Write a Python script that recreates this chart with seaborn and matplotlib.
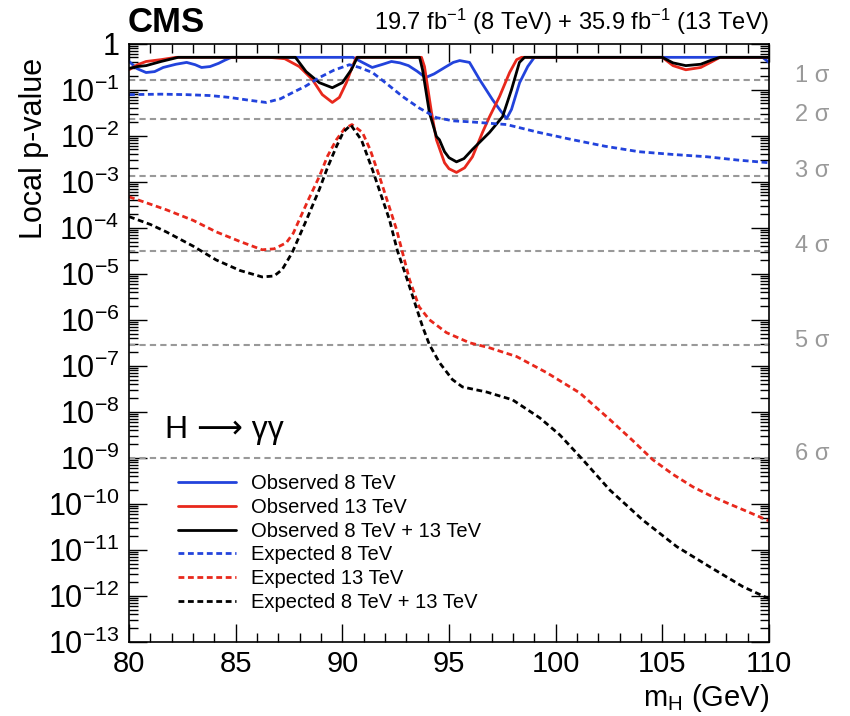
import numpy as np
import pandas as pd
import matplotlib
matplotlib.use("Agg")
import matplotlib.pyplot as plt
import seaborn as sns
from matplotlib.ticker import LogLocator, FuncFormatter, MultipleLocator, NullFormatter

# values: mass (GeV) and log10(local p-value)
obs8_mass = [80.0, 80.4, 80.8, 81.2, 81.6, 82.2, 82.7, 83.1, 83.4, 83.8, 84.2, 84.5, 84.8,
             90.5, 90.9, 91.4, 91.9, 92.3, 92.7, 93.1, 93.5, 93.9, 94.3, 94.8, 95.2, 95.5,
             95.96, 96.1, 96.43, 97.04, 97.4, 97.7, 97.93, 98.31, 98.69, 99.0, 109.7, 110.0]
obs8_logp = [-0.39, -0.55, -0.63, -0.61, -0.52, -0.45, -0.41, -0.46, -0.52, -0.50, -0.43, -0.36, -0.30,
             -0.30, -0.40, -0.52, -0.45, -0.39, -0.42, -0.48, -0.60, -0.74, -0.66, -0.52, -0.41, -0.37,
             -0.41, -0.52, -0.78, -1.22, -1.45, -1.63, -1.43, -0.85, -0.50, -0.30, -0.30, -0.41]

obs13_mass = [80.0, 80.4, 80.8, 81.5, 82.2, 86.57, 87.3, 87.98, 88.59, 89.06, 89.53, 89.86,
              90.19, 90.47, 90.66, 93.71, 93.85, 94.18, 94.41, 94.79, 95.0, 95.35, 95.73,
              96.1, 96.57, 96.9, 97.37, 97.84, 98.17, 98.4, 105.0, 105.5, 106.1, 106.8,
              107.3, 107.7, 110.0]
obs13_logp = [-0.57, -0.46, -0.39, -0.35, -0.30, -0.30, -0.33, -0.50, -0.78, -1.11, -1.28, -1.17,
              -0.85, -0.50, -0.30, -0.30, -0.50, -1.50, -2.09, -2.59, -2.72, -2.80, -2.70,
              -2.46, -1.93, -1.59, -1.15, -0.63, -0.35, -0.30, -0.30, -0.48, -0.57, -0.52,
              -0.40, -0.30, -0.30]

obscomb_mass = [80.0, 80.4, 80.8, 81.5, 82.3, 87.8, 88.3, 88.92, 89.53, 90.0, 90.42, 90.7,
                93.62, 93.76, 94.08, 94.41, 94.55, 94.79, 95.0, 95.35, 95.7, 96.1, 96.9,
                97.51, 97.93, 98.3, 98.54, 105.0, 105.5, 106.1, 106.8, 107.3, 107.7, 110.0]
obscomb_logp = [-0.54, -0.50, -0.48, -0.39, -0.30, -0.30, -0.61, -0.85, -0.96, -0.85, -0.57, -0.30,
                -0.30, -0.57, -1.50, -2.02, -2.09, -2.35, -2.48, -2.57, -2.50, -2.30, -1.93,
                -1.59, -1.00, -0.41, -0.30, -0.30, -0.42, -0.48, -0.45, -0.36, -0.30, -0.30]

exp8_mass = [80.0, 81.5, 82.68, 83.8, 84.7, 85.6, 86.43, 87.1, 87.65, 88.3, 88.92, 89.6,
             90.33, 90.8, 91.41, 92.1, 92.82, 93.6, 94.41, 95.2, 95.96, 97.7, 99.2, 100.8,
             102.3, 103.9, 105.5, 107.1, 108.5, 110.0]
exp8_logp = [-1.11, -1.10, -1.11, -1.13, -1.17, -1.23, -1.28, -1.20, -1.07, -0.92, -0.74, -0.58,
             -0.46, -0.52, -0.63, -0.88, -1.15, -1.40, -1.61, -1.68, -1.70, -1.76, -1.93, -2.09,
             -2.23, -2.35, -2.41, -2.46, -2.53, -2.59]

exp13_mass = [80.0, 81.0, 81.74, 83.0, 84.08, 85.2, 86.24, 86.8, 87.37, 87.7, 87.98, 88.4,
              88.92, 89.3, 89.72, 90.1, 90.45, 90.94, 91.3, 91.74, 92.2, 92.54, 92.82,
              93.15, 93.6, 94.08, 94.88, 95.96, 96.9, 98.17, 99.58, 101.13, 102.54,
              103.6, 104.55, 105.5, 106.43, 107.2, 108.03, 109.0, 110.0]
exp13_logp = [-3.33, -3.49, -3.61, -3.84, -4.09, -4.30, -4.48, -4.46, -4.33, -4.12, -3.83, -3.40,
              -2.89, -2.45, -2.09, -1.85, -1.76, -1.93, -2.30, -2.89, -3.55, -4.04, -4.54,
              -5.13, -5.72, -6.00, -6.28, -6.50, -6.61, -6.80, -7.15, -7.59, -8.17,
              -8.62, -9.04, -9.36, -9.63, -9.81, -9.98, -10.17, -10.37]

expcomb_mass = [80.0, 81.0, 81.74, 83.0, 84.08, 85.2, 86.24, 86.8, 87.18, 87.65, 88.3, 88.92,
                89.3, 89.72, 90.05, 90.4, 90.9, 91.41, 92.21, 92.58, 93.0, 93.76, 94.08,
                94.55, 95.16, 95.63, 96.76, 97.98, 99.25, 100.19, 101.27, 102.54, 104.08,
                105.68, 107.23, 108.78, 110.0]
expcomb_logp = [-3.76, -3.93, -4.09, -4.40, -4.70, -4.93, -5.07, -5.05, -4.91, -4.54, -3.85, -3.17,
                -2.70, -2.24, -1.92, -1.77, -2.10, -2.74, -3.83, -4.50, -5.07, -6.15, -6.54,
                -6.93, -7.30, -7.46, -7.57, -7.74, -8.13, -8.50, -9.04, -9.70, -10.35,
                -10.93, -11.37, -11.80, -12.06]

sigma_names = ["1 σ", "2 σ", "3 σ", "4 σ", "5 σ", "6 σ"]
sigma_pvalues = [1.587e-1, 2.275e-2, 1.350e-3, 3.167e-5, 2.867e-7, 9.866e-10]

BLUE = "#2243dc"
RED = "#e8281c"
DASH = (0, (2.1, 1.3))

series = [
    ("Observed 8 TeV", obs8_mass, obs8_logp, BLUE, "-"),
    ("Observed 13 TeV", obs13_mass, obs13_logp, RED, "-"),
    ("Observed 8 TeV + 13 TeV", obscomb_mass, obscomb_logp, "black", "-"),
    ("Expected 8 TeV", exp8_mass, exp8_logp, BLUE, DASH),
    ("Expected 13 TeV", exp13_mass, exp13_logp, RED, DASH),
    ("Expected 8 TeV + 13 TeV", expcomb_mass, expcomb_logp, "black", DASH),
]

sns.set_style("ticks")
plt.rcParams["font.family"] = ["Liberation Sans", "DejaVu Sans"]
plt.rcParams["mathtext.fontset"] = "custom"
plt.rcParams["mathtext.rm"] = "Liberation Sans"
plt.rcParams["mathtext.it"] = "Liberation Sans:italic"
plt.rcParams["mathtext.default"] = "regular"
for key in ["text.color", "axes.labelcolor", "xtick.color", "ytick.color", "axes.edgecolor"]:
    plt.rcParams[key] = "black"

fig = plt.figure(figsize=(8.5, 7.16), dpi=100)
ax = fig.add_axes([0.1518, 0.1034, 0.7529, 0.8358])

# significance reference lines
for p in sigma_pvalues:
    ax.axhline(p, color="#999999", lw=1.5, ls=(0, (3, 2)), zorder=1)

for label, mass, logp, color, style in series:
    df = pd.DataFrame({"mass": mass, "p": 10 ** np.array(logp)})
    sns.lineplot(data=df, x="mass", y="p", color=color, linestyle=style, lw=2.0,
                 label=label, estimator=None, sort=False, ax=ax)

ax.set_yscale("log")
ax.set_xlim(80, 110)
ax.set_ylim(1e-13, 1)

ax.xaxis.set_major_locator(MultipleLocator(5))
ax.xaxis.set_minor_locator(MultipleLocator(1))
ax.yaxis.set_major_locator(LogLocator(base=10, numticks=100))
ax.yaxis.set_minor_locator(LogLocator(base=10, subs=np.arange(2, 10), numticks=100))
ax.yaxis.set_minor_formatter(NullFormatter())
ax.yaxis.set_major_formatter(FuncFormatter(
    lambda v, pos: "1" if abs(np.log10(v)) < 0.01 else r"$10^{%d}$" % round(np.log10(v))))

ax.tick_params(which="both", direction="in", top=True, right=True, width=1)
ax.tick_params(which="major", length=13)
ax.tick_params(which="minor", length=6.5)
ax.tick_params(axis="x", pad=6, labelsize=21)
ax.tick_params(axis="y", pad=7, labelsize=22)
for s in ax.spines.values():
    s.set_linewidth(1.2)

ax.set_xlabel("")
ax.set_ylabel("")
fig.text(0.040, 1 - 58 / 716, "Local p-value", rotation=90, ha="center", va="top", fontsize=22)
fig.text(0.9047, 1 - 706 / 716, r"m$_{\mathregular{H}}$ (GeV)", ha="right", va="baseline", fontsize=21)

fig.text(128 / 850, 1 - 32 / 716, "CMS", fontsize=25, fontweight="bold", ha="left", va="baseline")
fig.text(0.9047, 1 - 30 / 716, r"19.7 fb$^{-1}$ (8 TeV) + 35.9 fb$^{-1}$ (13 TeV)",
         fontsize=17, ha="right", va="baseline")

ax.text(0.056, 0.354, "H ⟶ γγ", transform=ax.transAxes, fontsize=23, ha="left", va="center",
        family=["Liberation Sans", "DejaVu Sans"])

for name, p in zip(sigma_names, sigma_pvalues):
    ax.annotate(name, xy=(1.04, p), xycoords=ax.get_yaxis_transform(), xytext=(0, 3),
                textcoords="offset points", color="#999999", fontsize=17, ha="left", va="center")

ax.legend(loc="upper left", bbox_to_anchor=(0.0766, 0.280), frameon=False, fontsize=14.5,
          handlelength=2.9, handletextpad=0.7, labelspacing=0.23, borderpad=0, borderaxespad=0)

fig.savefig("out.png", dpi=100)
